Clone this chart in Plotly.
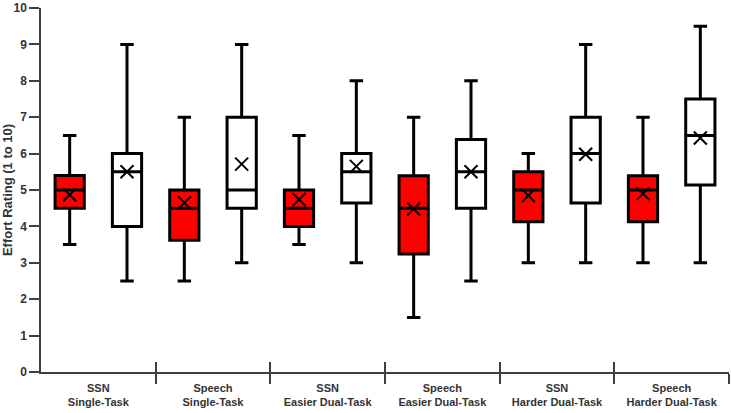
import plotly.graph_objects as go

groups = ["SSN<br>Single-Task", "Speech<br>Single-Task", "SSN<br>Easier Dual-Task",
          "Speech<br>Easier Dual-Task", "SSN<br>Harder Dual-Task", "Speech<br>Harder Dual-Task"]

# Red (left) boxes
red_lower = [3.5, 2.5, 3.5, 1.5, 3.0, 3.0]
red_q1 = [4.5, 3.62, 4.0, 3.24, 4.13, 4.13]
red_median = [5.0, 4.5, 4.5, 4.5, 5.0, 5.0]
red_q3 = [5.4, 5.0, 5.0, 5.39, 5.5, 5.39]
red_upper = [6.5, 7.0, 6.5, 7.0, 6.0, 7.0]
red_mean = [4.87, 4.65, 4.74, 4.48, 4.85, 4.9]

# White (right) boxes
white_lower = [2.5, 3.0, 3.0, 2.5, 3.0, 3.0]
white_q1 = [4.0, 4.5, 4.64, 4.5, 4.64, 5.14]
white_median = [5.5, 5.0, 5.5, 5.5, 6.0, 6.5]
white_q3 = [6.0, 7.0, 6.0, 6.39, 7.0, 7.5]
white_upper = [9.0, 9.0, 8.0, 8.0, 9.0, 9.5]
white_mean = [5.5, 5.71, 5.65, 5.5, 5.98, 6.43]

centers = list(range(len(groups)))
red_x = [c - 0.25 for c in centers]
white_x = [c + 0.25 for c in centers]
bounds = [c + 0.5 for c in centers]

fig = go.Figure()
fig.add_trace(go.Box(x=red_x, q1=red_q1, median=red_median, q3=red_q3,
                     lowerfence=red_lower, upperfence=red_upper,
                     width=0.255, whiskerwidth=0.46, fillcolor="#ff0000",
                     line=dict(color="black", width=3), boxpoints=False,
                     showlegend=False, hoverinfo="skip"))
fig.add_trace(go.Box(x=white_x, q1=white_q1, median=white_median, q3=white_q3,
                     lowerfence=white_lower, upperfence=white_upper,
                     width=0.255, whiskerwidth=0.46, fillcolor="white",
                     line=dict(color="black", width=3), boxpoints=False,
                     showlegend=False, hoverinfo="skip"))
fig.add_trace(go.Scatter(x=red_x + white_x, y=red_mean + white_mean, mode="markers",
                         marker=dict(symbol="x-thin", size=13,
                                     line=dict(color="black", width=2)),
                         showlegend=False, hoverinfo="skip", cliponaxis=False))

axis_color = "#404040"
text_color = "#333333"
fig.update_layout(
    width=731, height=413,
    margin=dict(l=41, r=2, t=8, b=41),
    paper_bgcolor="white", plot_bgcolor="white",
    font=dict(family="Liberation Sans, Arial, sans-serif", size=11, color=text_color),
    xaxis=dict(range=[-0.5, 5.5], tickmode="array", tickvals=centers, ticktext=groups,
               ticks="", showgrid=False, zeroline=False, showline=True, automargin=False,
               linecolor=axis_color, linewidth=1.5, ticklabelstandoff=5,
               ticklabeloverflow="allow",
               tickfont=dict(size=11, weight="bold", color=text_color),
               minor=dict(tickmode="array", tickvals=bounds, ticks="outside",
                          ticklen=10, tickwidth=1.5, tickcolor=axis_color)),
    xaxis2=dict(range=[-0.5, 5.5], overlaying="x", anchor="y", side="bottom",
                tickmode="array", tickvals=bounds, ticks="inside", ticklen=10,
                tickwidth=1.5, tickcolor=axis_color, showticklabels=False, automargin=False,
                showgrid=False, zeroline=False, showline=False),
    yaxis=dict(range=[0, 10], tickmode="array", tickvals=list(range(11)),
               ticks="outside", ticklen=10, tickwidth=1.5, automargin=False,
               ticklabeloverflow="allow",
               tickcolor=axis_color, showgrid=False, zeroline=False, showline=True,
               linecolor=axis_color, linewidth=1.5,
               tickfont=dict(size=12, weight="bold", color=text_color),
               title=dict(text="Effort Rating (1 to 10)", standoff=3,
                          font=dict(size=13, weight="bold", color=text_color))),
)
# dummy trace to show xaxis2
fig.add_trace(go.Scatter(x=[None], y=[None], xaxis="x2", showlegend=False, hoverinfo="skip"))

fig.write_html("out.html", config={"displayModeBar": False},
               post_script="document.body.style.margin='0';document.body.style.overflow='hidden';")
